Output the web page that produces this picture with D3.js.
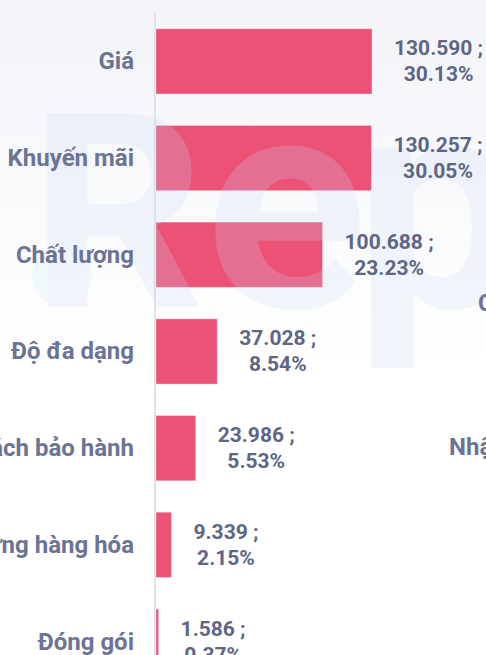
<!DOCTYPE html>
<html>
<head>
<meta charset="utf-8">
<script src="https://cdn.jsdelivr.net/npm/d3@7"></script>
<style>
  html, body { margin: 0; padding: 0; overflow: hidden; background: #fff; }
  svg { display: block; font-family: Roboto, "Noto Sans", sans-serif; }
</style>
</head>
<body>
<svg id="chart" width="486" height="655"></svg>
<script>
// ----------- Data ------------
const categories = ["Giá", "Khuyến mãi", "Chất lượng", "Độ đa dạng", "Chính sách bảo hành", "Đặc trưng hàng hóa", "Đóng gói"];
const values = [130590, 130257, 100688, 37028, 23986, 9339, 1586];
const percents = [30.13, 30.05, 23.23, 8.54, 5.53, 2.15, 0.37];
// labels of the neighbouring panel, cut off at the right edge
const sideLabels = ["Chính hãng", "Nhập khẩu"];

// ----------- Layout ------------
const W = 486, H = 655;
const axisX = 156;
const topY = 13;
const step = 96.7;

const svg = d3.select("#chart");

// background: faint grey at the top fading to white
const defs = svg.append("defs");
const grad = defs.append("linearGradient")
  .attr("id", "bg").attr("x1", 0).attr("y1", 0).attr("x2", 0).attr("y2", 1);
grad.append("stop").attr("offset", "0%").attr("stop-color", "#f3f4f8");
grad.append("stop").attr("offset", "55%").attr("stop-color", "#ffffff");
grad.append("stop").attr("offset", "100%").attr("stop-color", "#ffffff");
svg.append("rect").attr("width", W).attr("height", H).attr("fill", "url(#bg)");

// ----------- Scales ------------
const x = d3.scaleLinear()
  .domain([0, d3.max(values)])
  .range([0, 216]);

const y = d3.scaleBand()
  .domain(categories)
  .range([topY, topY + step * categories.length])
  .paddingInner(0.325)
  .paddingOuter(0.1625);

const fmt = d3.formatLocale({ decimal: ",", thousands: ".", grouping: [3], currency: ["", ""] }).format(",d");

// axis line
svg.append("line")
  .attr("x1", axisX - 1).attr("x2", axisX - 1)
  .attr("y1", topY).attr("y2", H)
  .attr("stroke", "#dfe2e9").attr("stroke-width", 2);

// ----------- Bars ------------
svg.selectAll("rect.bar")
  .data(categories)
  .enter()
  .append("rect")
  .attr("class", "bar")
  .attr("x", axisX)
  .attr("y", d => y(d))
  .attr("width", (d, i) => x(values[i]))
  .attr("height", y.bandwidth())
  .attr("fill", "#ec5276")
  .attr("stroke", "rgba(255,255,255,0.35)")
  .attr("stroke-width", 1);

// ----------- Watermark ------------
const wm = svg.append("g").attr("opacity", 0.22).attr("fill", "#c8d8f5").attr("font-weight", 700);
wm.append("circle").attr("cx", 62).attr("cy", 276).attr("r", 30).attr("fill", "#c9ecfa");
wm.append("text")
  .attr("x", 30).attr("y", 307)
  .attr("font-size", 273)
  .text("R");
wm.append("text")
  .attr("x", 205).attr("y", 307)
  .attr("font-size", 300)
  .attr("letter-spacing", -12)
  .text("ep");

// ----------- Category labels ------------
svg.selectAll("text.cat")
  .data(categories)
  .enter()
  .append("text")
  .attr("class", "cat")
  .attr("x", 134)
  .attr("y", d => y(d) + y.bandwidth() / 2 + 8)
  .attr("text-anchor", "end")
  .attr("font-size", 24)
  .attr("font-weight", 700)
  .attr("fill", "#6b7495")
  .text(d => d);

// ----------- Value labels ------------
categories.forEach((c, i) => {
  const cy = y(c) + y.bandwidth() / 2;
  const left = axisX + x(values[i]) + 22;
  const g = svg.append("g");
  const l1 = g.append("text")
    .attr("y", cy - 6)
    .text(fmt(values[i]) + " ;");
  const l2 = g.append("text")
    .attr("y", cy + 20)
    .text(percents[i].toFixed(2) + "%");
  g.selectAll("text")
    .attr("font-size", 21)
    .attr("font-weight", 700)
    .attr("fill", "#5d6686")
    .attr("text-anchor", "middle");
  const w = Math.max(l1.node().getComputedTextLength(), l2.node().getComputedTextLength());
  g.selectAll("text").attr("x", left + w / 2);
});

// ----------- Neighbouring panel labels (clipped) ------------
svg.append("text")
  .attr("x", 478).attr("y", 311)
  .attr("font-size", 24).attr("font-weight", 700).attr("fill", "#6b7495")
  .text(sideLabels[0]);
svg.append("text")
  .attr("x", 449).attr("y", 455)
  .attr("font-size", 24).attr("font-weight", 700).attr("fill", "#6b7495")
  .text(sideLabels[1]);
</script>
</body>
</html>
